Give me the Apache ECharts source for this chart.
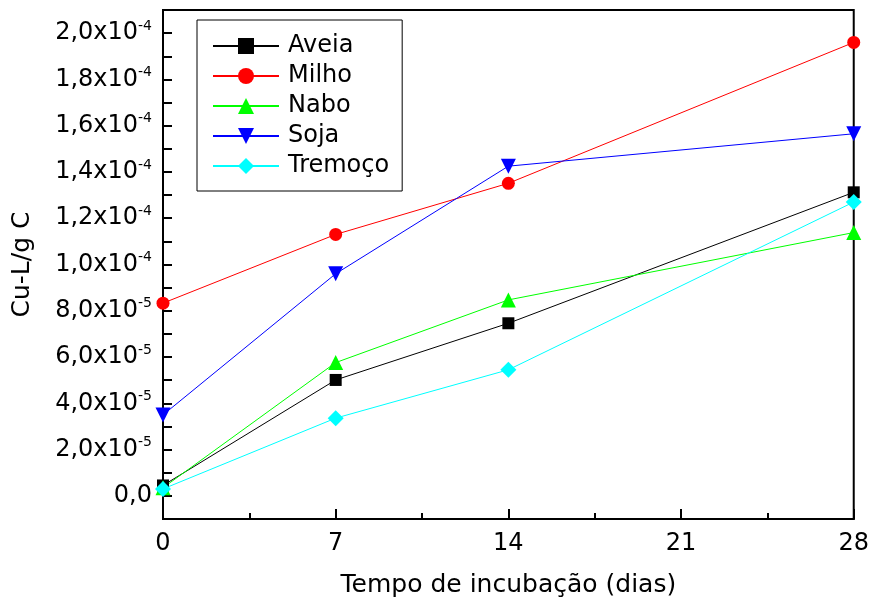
<!DOCTYPE html>
<html lang="pt">
<head>
    <meta charset="UTF-8">
    <title>Cu-L/g C</title>
    <script src="https://cdn.jsdelivr.net/npm/echarts@6/dist/echarts.min.js"></script>
    <style>
        html, body { margin: 0; padding: 0; background: #fff; }
        #main { width: 872px; height: 605px; }
    </style>
</head>
<body>
<div id="main"></div>
<script>
    // dias de incubação
    var dias = [0, 7, 14, 28];
    // Cu-L/g C por cobertura
    var aveia   = [0.45e-5, 5.01e-5, 7.46e-5, 13.12e-5];
    var milho   = [8.33e-5, 11.3e-5, 13.51e-5, 19.6e-5];
    var nabo    = [0.35e-5, 5.76e-5, 8.47e-5, 11.38e-5];
    var soja    = [3.5e-5, 9.6e-5, 14.25e-5, 15.65e-5];
    var tremoco = [0.3e-5, 3.36e-5, 5.45e-5, 12.7e-5];

    var nomes = ['Aveia', 'Milho', 'Nabo', 'Soja', 'Tremoço'];
    var cores = ['#000000', '#ff0000', '#00ff00', '#0000ff', '#00ffff'];
    var simbolos = ['rect', 'circle', 'triangle', 'path://M0,0 L10,0 L5,9 Z', 'diamond'];
    var tamanhos = [12, 13, 15, 15, 16];
    var valores = [aveia, milho, nabo, soja, tremoco];

    var fonte = 'DejaVu Sans, Liberation Sans, sans-serif';

    function pares(ys) {
        var out = [];
        for (var i = 0; i < dias.length; i++) out.push([dias[i], ys[i]]);
        return out;
    }

    // rótulo tipo "2,0x10^-4"
    function rotuloY(v) {
        var k = Math.round(v / 1e-5);
        if (k % 2 !== 0) return '';
        if (k === 0) return '0,0';
        v = Number(v.toPrecision(6));
        var e = Math.floor(Math.log10(Math.abs(v)) + 1e-9);
        var m = v / Math.pow(10, e);
        return m.toFixed(1).replace('.', ',') + 'x10{sup|' + e + '}';
    }

    var series = [];
    for (var i = 0; i < nomes.length; i++) {
        series.push({
            name: nomes[i],
            type: 'line',
            data: pares(valores[i]),
            symbol: simbolos[i],
            symbolSize: tamanhos[i],
            showAllSymbol: true,
            lineStyle: { color: cores[i], width: 1 },
            itemStyle: { color: cores[i] },
            emphasis: { disabled: true },
            z: 3
        });
    }

    var myChart = echarts.init(document.getElementById('main'));
    var option = {
        animation: false,
        backgroundColor: '#fff',
        textStyle: { fontFamily: fonte },
        grid: {
            left: 163, right: 17, top: 10, bottom: 86,
            show: true, borderColor: '#000', borderWidth: 2,
            backgroundColor: 'transparent'
        },
        legend: {
            data: nomes,
            orient: 'vertical',
            left: 197, top: 20,
            padding: [14, 13, 13, 15],
            itemWidth: 66, itemHeight: 20, itemGap: 6,
            borderColor: '#000', borderWidth: 1,
            backgroundColor: '#fff',
            textStyle: { fontFamily: fonte, fontSize: 24, color: '#000', lineHeight: 24, padding: [0, 0, 0, 4] }
        },
        xAxis: {
            type: 'value',
            min: 0, max: 28, interval: 7,
            name: 'Tempo de incubação (dias)',
            nameLocation: 'middle',
            nameGap: 54,
            nameTextStyle: { fontFamily: fonte, fontSize: 25, color: '#000' },
            axisLine: { onZero: false, lineStyle: { color: '#000', width: 2 } },
            axisTick: { inside: true, length: 10, lineStyle: { color: '#000', width: 2 } },
            minorTick: { show: true, splitNumber: 2, length: 6, lineStyle: { color: '#000', width: 2 } },
            axisLabel: { fontFamily: fonte, fontSize: 24, color: '#000', margin: 13 },
            splitLine: { show: false }
        },
        yAxis: {
            type: 'value',
            min: -1e-5, max: 2.1e-4, interval: 1e-5,
            name: 'Cu-L/g C',
            nameLocation: 'middle',
            nameGap: 128,
            nameTextStyle: { fontFamily: fonte, fontSize: 25, color: '#000' },
            axisLine: { onZero: false, lineStyle: { color: '#000', width: 2 } },
            axisTick: { inside: true, length: 9, lineStyle: { color: '#000', width: 2 } },
            axisLabel: {
                fontFamily: fonte, fontSize: 24, color: '#000', margin: 11,
                formatter: rotuloY,
                rich: {
                    sup: { fontFamily: fonte, fontSize: 14, color: '#000', padding: [0, 0, 14, 0] }
                }
            },
            splitLine: { show: false }
        },
        series: series
    };
    myChart.setOption(option);
</script>
</body>
</html>
